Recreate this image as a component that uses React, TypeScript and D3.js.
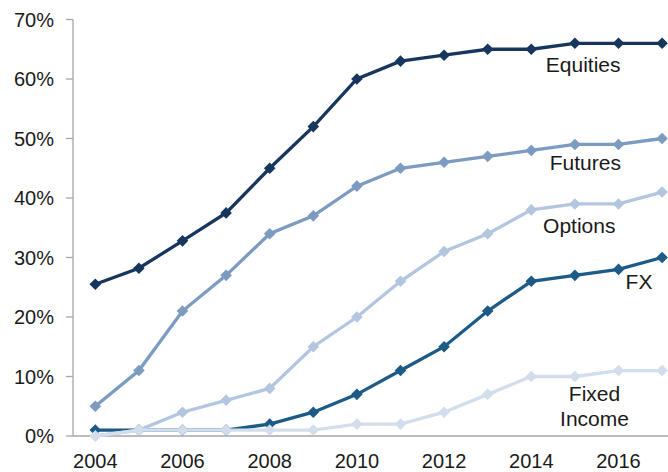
import React from "react";
import * as d3 from "d3";

const years = [2004, 2005, 2006, 2007, 2008, 2009, 2010, 2011, 2012, 2013, 2014, 2015, 2016, 2017];
const xTickYears = [2004, 2006, 2008, 2010, 2012, 2014, 2016];
const yTicks = [0, 10, 20, 30, 40, 50, 60, 70];

const equities = [25.5, 28.2, 32.8, 37.5, 45, 52, 60, 63, 64, 65, 65, 66, 66, 66];
const futures = [5, 11, 21, 27, 34, 37, 42, 45, 46, 47, 48, 49, 49, 50];
const options = [0, 1, 4, 6, 8, 15, 20, 26, 31, 34, 38, 39, 39, 41];
const fx = [1, 1, 1, 1, 2, 4, 7, 11, 15, 21, 26, 27, 28, 30];
const fixedIncome = [0, 1, 1, 1, 1, 1, 2, 2, 4, 7, 10, 10, 11, 11];

const seriesNames = ["Equities", "Futures", "FX", "Options", "Fixed Income"];
const seriesData = [equities, futures, fx, options, fixedIncome];
const seriesColors = ["#17365d", "#7c9bc1", "#1c5a87", "#b3c6df", "#d3deec"];

const labels = [
  { lines: ["Equities"], x: 2015.19, y: 61.2 },
  { lines: ["Futures"], x: 2015.24, y: 44.7 },
  { lines: ["Options"], x: 2015.1, y: 34.07 },
  { lines: ["FX"], x: 2016.47, y: 24.66 },
  { lines: ["Fixed", "Income"], x: 2015.45, y: 5.88 },
];

export default function App() {
  const W = 668;
  const H = 472;
  const left = 73;
  const step = 43.6;
  const x = d3
    .scalePoint<number>()
    .domain(years)
    .range([left + step / 2 + 0.5, left + step / 2 + 0.5 + step * (years.length - 1)]);
  const y = d3.scaleLinear().domain([0, 70]).range([436, 19.5]);
  const line = d3
    .line<number>()
    .x((_, i) => x(years[i]) as number)
    .y((d) => y(d));
  const font = "'Liberation Sans', Arial, sans-serif";
  const yr = d3.scaleLinear().domain([2004, 2017]).range([x(2004) as number, x(2017) as number]);
  const diamond = (cx: number, cy: number, r: number) =>
    `M${cx},${cy - r}L${cx + r},${cy}L${cx},${cy + r}L${cx - r},${cy}Z`;

  return (
    <svg
      width={W}
      height={H}
      style={{ position: "absolute", left: 0, top: 0, background: "#fff" }}
      fontFamily={font}
    >
      <line x1={left} x2={left} y1={y(70)} y2={y(0)} stroke="#a6a6a6" strokeWidth={1.3} />
      <line x1={left} x2={W} y1={y(0)} y2={y(0)} stroke="#a6a6a6" strokeWidth={1.3} />
      {yTicks.map((t) => (
        <g key={t}>
          <line x1={left - 7} x2={left} y1={y(t)} y2={y(t)} stroke="#a6a6a6" strokeWidth={1.3} />
          <text x={54} y={y(t)} dy="0.36em" textAnchor="end" fontSize={20} fill="#1a1a1a">
            {t}%
          </text>
        </g>
      ))}
      {xTickYears.map((t) => (
        <text key={t} x={x(t)} y={467.5} textAnchor="middle" fontSize={20} fill="#1a1a1a">
          {t}
        </text>
      ))}
      {seriesData.map((data, si) => (
        <g key={seriesNames[si]}>
          <path d={line(data) ?? ""} fill="none" stroke={seriesColors[si]} strokeWidth={3.3} />
          {data.map((v, i) => (
            <path
              key={i}
              d={diamond(x(years[i]) as number, y(v), 5.8)}
              fill={seriesColors[si]}
            />
          ))}
        </g>
      ))}
      {labels.map((l, i) => (
        <text key={i} x={yr(l.x)} y={y(l.y)} textAnchor="middle" fontSize={21} fill="#1a1a1a">
          {l.lines.map((s, j) => (
            <tspan key={j} x={yr(l.x)} dy={j === 0 ? 0 : 24.7}>
              {s}
            </tspan>
          ))}
        </text>
      ))}
    </svg>
  );
}
